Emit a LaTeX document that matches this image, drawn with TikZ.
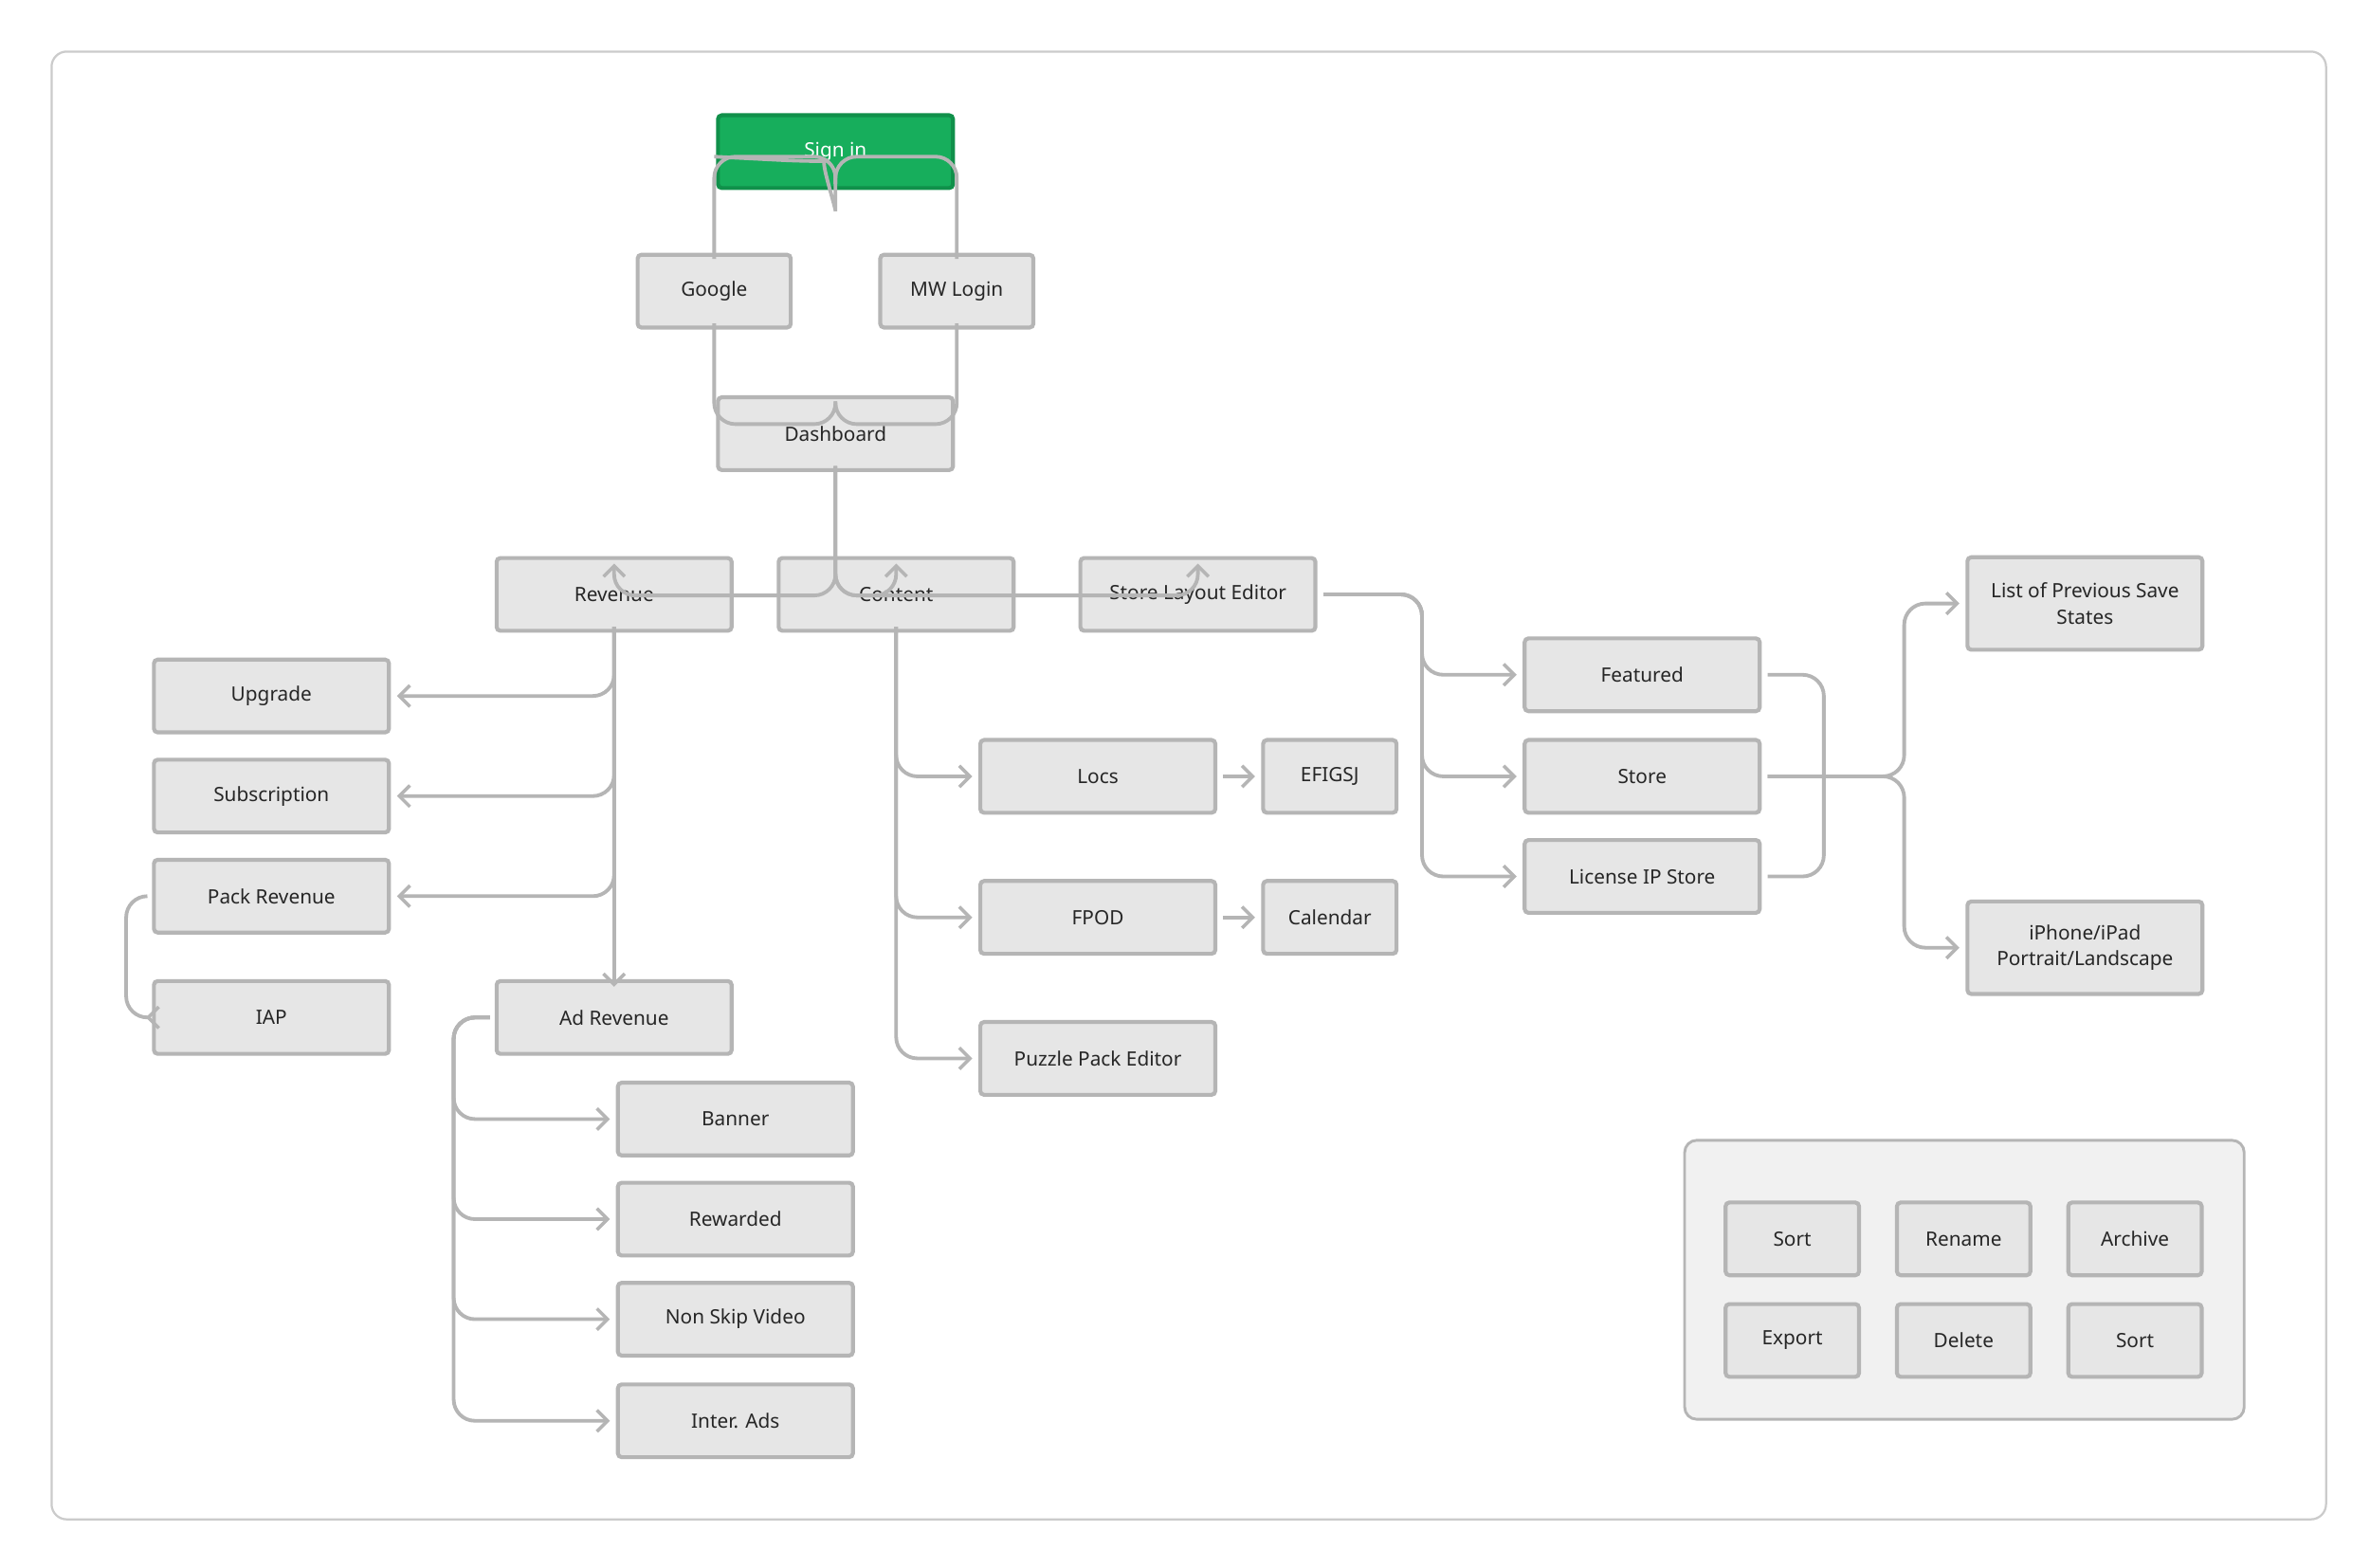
\documentclass[tikz,border=0pt]{standalone}
\usepackage{fontspec}
\setmainfont{Noto Sans}
\usetikzlibrary{arrows.meta}
\definecolor{bx}{HTML}{E6E6E6}
\definecolor{bd}{HTML}{B5B5B5}
\definecolor{gr}{HTML}{17AE5C}
\definecolor{gd}{HTML}{10904A}
\definecolor{tx}{HTML}{262626}
\begin{document}
\begin{tikzpicture}[x=1pt,y=-1pt,
  box/.style={draw=bd,fill=bx,line width=2.6pt,rounded corners=2.5pt,minimum width=155pt,minimum height=48pt,font=\fontsize{13}{17}\selectfont,text=tx,align=center,inner sep=0pt},
  sbox/.style={box,minimum width=101pt},
  tbox/.style={box,minimum width=88pt},
  conn/.style={draw=bd,line width=2.4pt,rounded corners=14pt},
  arr/.style={conn,-{Straight Barb[length=7pt,width=14pt,line width=2.2pt]}}]
\useasboundingbox (0,0) rectangle (1563,1033.5);
\draw[draw=bd!70,line width=1.4pt,rounded corners=10pt,fill=white] (34,34) rectangle (1534,1002);
\draw[draw=bd,fill=bx!55,line width=1.8pt,rounded corners=8pt] (1111,752) rectangle (1480,936);
\node[box,fill=gr,draw=gd,text=white] (sign) at (551,100) {Sign in};
\node[sbox] (google) at (471,192) {Google};
\node[sbox] (mw) at (631,192) {MW Login};
\node[box] (dash) at (551,286) {Dashboard};
\node[box] (rev) at (405,392) {Revenue};
\node[box] (cont) at (591,392) {Content};
\node[box] (sle) at (790,392) {Store Layout Editor};
\node[box] (upg) at (179,459) {Upgrade};
\node[box] (sub) at (179,525) {Subscription};
\node[box] (pack) at (179,591) {Pack Revenue};
\node[box] (iap) at (179,671) {IAP};
\node[box] (ad) at (405,671) {Ad Revenue};
\node[box] (ban) at (485,738) {Banner};
\node[box] (rew) at (485,804) {Rewarded};
\node[box] (nsv) at (485,870) {Non Skip Video};
\node[box] (inter) at (485,937) {Inter. Ads};
\node[box] (locs) at (724,512) {Locs};
\node[tbox] (efi) at (877,512) {EFIGSJ};
\node[box] (fpod) at (724,605) {FPOD};
\node[tbox] (cal) at (877,605) {Calendar};
\node[box] (ppe) at (724,698) {Puzzle Pack Editor};
\node[box] (feat) at (1083,445) {Featured};
\node[box] (store) at (1083,512) {Store};
\node[box] (lic) at (1083,578) {License IP Store};
\node[box,minimum height=61pt] (list) at (1375,398) {List of Previous Save\\States};
\node[box,minimum height=61pt] (iph) at (1375,625) {iPhone/iPad\\Portrait/Landscape};
\node[tbox] (s1) at (1182,817) {Sort};
\node[tbox] (rn) at (1295,817) {Rename};
\node[tbox] (arc) at (1408,817) {Archive};
\node[tbox] (exp) at (1182,884) {Export};
\node[tbox] (del) at (1295,884) {Delete};
\node[tbox] (s2) at (1408,884) {Sort};
% sign in braces
\coordinate (a1) at ([yshift=4pt]sign.south);
\draw[conn] (a1) -- ++(0,4) to[out=-90,in=0] ([yshift=19pt]sign.south -| 530,0) -- ([yshift=22pt]sign.south -| google) ++(0,0);
\draw[conn] (a1) |- ([yshift=22pt]sign.south -| google.north) -- ([yshift=-4pt]google.north);
\draw[conn] (a1) |- ([yshift=22pt]sign.south -| mw.north) -- ([yshift=-4pt]mw.north);
\draw[conn] ([yshift=4pt]google.south) |- ([yshift=-19pt]dash.north) -| ([yshift=-4pt]dash.north);
\draw[conn] ([yshift=4pt]mw.south) |- ([yshift=-19pt]dash.north) -| ([yshift=-4pt]dash.north);
% dashboard
\draw[arr] ([yshift=4pt]dash.south) |- ([yshift=-26pt]rev.north) -- ([yshift=-5pt]rev.north);
\draw[arr] ([yshift=4pt]dash.south) |- ([yshift=-26pt]cont.north) -- ([yshift=-5pt]cont.north);
\draw[arr] ([yshift=4pt]dash.south) |- ([yshift=-26pt]sle.north) -- ([yshift=-5pt]sle.north);
% revenue
\draw[arr,rounded corners=0pt] ([yshift=4pt]rev.south) -- ([yshift=-5pt]ad.north);
\draw[arr] ([yshift=4pt]rev.south) |- ([xshift=4pt]upg.east);
\draw[arr] ([yshift=4pt]rev.south) |- ([xshift=4pt]sub.east);
\draw[arr] ([yshift=4pt]rev.south) |- ([xshift=4pt]pack.east);
\draw[arr] ([xshift=-3pt]pack.west) -- ++(-14,0) |- ([xshift=-4pt]iap.west);
% ad revenue
\foreach \t in {ban,rew,nsv,inter}
  \draw[arr] ([xshift=-3pt]ad.west) -- ++(-24,0) |- ([xshift=-4pt]\t.west);
% content
\foreach \t in {locs,fpod,ppe}
  \draw[arr] ([yshift=4pt]cont.south) |- ([xshift=-4pt]\t.west);
\draw[arr] ([xshift=4pt]locs.east) -- ([xshift=-4pt]efi.west);
\draw[arr] ([xshift=4pt]fpod.east) -- ([xshift=-4pt]cal.west);
% store layout editor
\foreach \t in {feat,store,lic}
  \draw[arr] ([xshift=4pt]sle.east) -- ++(65,0) |- ([xshift=-4pt]\t.west);
\draw[conn] ([xshift=4pt]feat.east) -- ++(37,0) |- ([xshift=4pt]lic.east);
\draw[arr] ([xshift=4pt]store.east) -- ++(90,0) |- ([xshift=-4pt]list.west);
\draw[arr] ([xshift=4pt]store.east) -- ++(90,0) |- ([xshift=-4pt]iph.west);
\end{tikzpicture}
\end{document}
